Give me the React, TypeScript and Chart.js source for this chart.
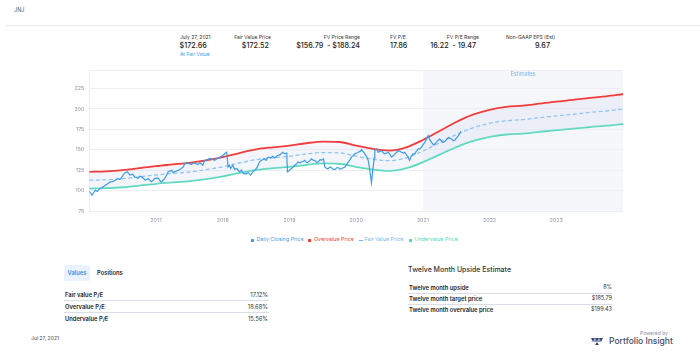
import React, { useEffect, useRef } from "react";
import { Chart, registerables } from "chart.js";

Chart.register(...registerables);

// ---- data ----
const priceX = [
  2016.0, 2016.02, 2016.04, 2016.07, 2016.09, 2016.12, 2016.16, 2016.2, 2016.24, 2016.27, 2016.31, 2016.35, 2016.39,
  2016.43, 2016.46, 2016.49, 2016.53, 2016.57, 2016.61, 2016.65, 2016.68, 2016.73, 2016.76, 2016.79, 2016.84, 2016.88,
  2016.93, 2016.96, 2016.98, 2017.03, 2017.06, 2017.08, 2017.11, 2017.13, 2017.16, 2017.18, 2017.23, 2017.26, 2017.28,
  2017.33, 2017.38, 2017.41, 2017.43, 2017.46, 2017.48, 2017.53, 2017.56, 2017.58, 2017.62, 2017.66, 2017.7, 2017.73,
  2017.77, 2017.81, 2017.85, 2017.88, 2017.92, 2017.96, 2018.0, 2018.03, 2018.06, 2018.08, 2018.1, 2018.12, 2018.15,
  2018.18, 2018.21, 2018.25, 2018.28, 2018.31, 2018.35, 2018.38, 2018.42, 2018.45, 2018.48, 2018.52, 2018.55, 2018.58,
  2018.62, 2018.65, 2018.68, 2018.72, 2018.75, 2018.78, 2018.82, 2018.86, 2018.9, 2018.93, 2018.96, 2018.97, 2019.0,
  2019.03, 2019.06, 2019.08, 2019.11, 2019.13, 2019.16, 2019.18, 2019.21, 2019.23, 2019.26, 2019.28, 2019.31, 2019.33,
  2019.36, 2019.38, 2019.41, 2019.43, 2019.46, 2019.48, 2019.51, 2019.53, 2019.56, 2019.58, 2019.61, 2019.63, 2019.66,
  2019.68, 2019.71, 2019.73, 2019.76, 2019.78, 2019.81, 2019.83, 2019.86, 2019.88, 2019.91, 2019.93, 2019.96, 2019.98,
  2020.01, 2020.03, 2020.06, 2020.08, 2020.11, 2020.13, 2020.16, 2020.18, 2020.2, 2020.21, 2020.23, 2020.24, 2020.255,
  2020.27, 2020.28, 2020.31, 2020.33, 2020.36, 2020.38, 2020.41, 2020.43, 2020.46, 2020.48, 2020.51, 2020.53, 2020.56,
  2020.58, 2020.61, 2020.63, 2020.66, 2020.68, 2020.71, 2020.73, 2020.76, 2020.78, 2020.8, 2020.82, 2020.85, 2020.88,
  2020.9, 2020.93, 2020.95, 2020.98, 2021.0, 2021.03, 2021.06, 2021.08, 2021.1, 2021.13, 2021.16, 2021.18, 2021.21,
  2021.25, 2021.28, 2021.3, 2021.33, 2021.36, 2021.38, 2021.41, 2021.43, 2021.46, 2021.48, 2021.51, 2021.53, 2021.55,
  2021.57,
];
const priceY = [
  99, 97, 94.5, 98, 100.5, 99, 102.6, 104, 106.6, 108, 110.6, 111, 112.7,
  114.7, 113.5, 116.7, 121.6, 123, 119, 120, 116.7, 115, 117.5, 116.7, 112.7, 114.7,
  111, 113, 114.7, 115.5, 112, 110.6, 113, 115, 119, 122.8, 124.8, 122, 123,
  124.8, 127, 129, 133, 134.5, 133.7, 132, 134, 133.7, 132, 134, 131, 137,
  138, 139.5, 138, 137, 139.5, 141, 143, 145.2, 147, 129, 131, 127, 131,
  126, 127, 123, 125, 121, 120.5, 122, 119, 122.8, 124.8, 129, 135, 137,
  139, 137, 141, 140, 142, 140, 143, 144, 147, 145, 146, 123, 125,
  127, 129, 131, 133, 135, 134, 135, 136, 137, 134, 135, 137, 139,
  137, 137, 134, 135, 138, 137, 139, 129, 127, 127, 129, 128, 126,
  125.7, 128, 128.2, 126, 127, 128, 129, 132, 135, 138, 141, 143, 145,
  146, 147, 148, 150, 147, 145, 141, 137, 128, 121, 109.5, 118, 129,
  140, 149, 151, 147, 148, 149, 146, 145, 146, 147, 144, 141, 143,
  145, 147, 149, 148, 147, 146, 147, 143, 141, 137, 141, 145, 145,
  148, 151, 151, 153, 156, 159, 164, 167.4, 163, 159, 156, 157, 160,
  163, 161, 159, 160, 163, 165, 164, 163, 161, 162, 165, 167, 169.4,
  172.7,
];

const bandX = [
  2016.0, 2016.25, 2016.5, 2016.75, 2017.0, 2017.25, 2017.5, 2017.75, 2018.0, 2018.25, 2018.5, 2018.75, 2019.0,
  2019.25, 2019.5, 2019.75, 2020.0, 2020.25, 2020.5, 2020.75, 2021.0, 2021.25, 2021.5, 2021.75, 2022.0, 2022.25,
  2022.5, 2022.75, 2023.0, 2023.25, 2023.5, 2023.75, 2024.0,
];
const overY = [
  123, 123.5, 125, 127.5, 130, 132, 134, 137, 141, 146, 150.5, 153, 155,
  158, 160, 159.5, 155, 151, 149, 153, 162, 173, 184, 193, 199, 202.5,
  204, 206.5, 209, 211, 213.5, 215.5, 218,
];
const fairY = [
  112.7, 113.2, 114.6, 116.9, 119.1, 121.0, 122.8, 125.6, 129.2, 133.8, 137.9, 140.2, 142.1,
  144.8, 146.6, 146.2, 142.1, 138.4, 136.6, 140.2, 148.5, 158.6, 168.6, 176.9, 182.4, 185.6,
  187.0, 189.3, 191.5, 193.4, 195.7, 197.5, 199.8,
];
const underY = [
  102.5, 102.9, 104.1, 106.2, 108.3, 110.0, 111.6, 114.1, 117.5, 121.6, 125.4, 127.4, 129.1,
  131.6, 133.3, 132.9, 129.1, 125.8, 124.1, 127.4, 134.9, 144.1, 153.3, 160.8, 165.8, 168.7,
  169.9, 172.0, 174.1, 175.8, 177.8, 179.5, 181.6,
];

const yTicks = [75, 100, 125, 150, 175, 200, 225];
const yTop = 247.5;
const xMin = 2016;
const xMax = 2024;
const estimatesStart = 2021;

const seriesNames = ["Daily Closing Price", "Overvalue Price", "Fair Value Price", "Undervalue Price"];

const headerLabels = ["July 27, 2021", "Fair Value Price", "FV Price Range", "FV P/E", "FV P/E Range", "Non-GAAP EPS (Est)"];
const headerValues = ["$172.66", "$172.52", "$156.79  - $188.24", "17.86", "16.22  - 19.47", "9.67"];

const peLabels = ["Fair value P/E", "Overvalue P/E", "Undervalue P/E"];
const peValues = ["17.12%", "18.68%", "15.56%"];
const upsideLabels = ["Twelve month upside", "Twelve month target price", "Twelve month overvalue price"];
const upsideValues = ["8%", "$185.79", "$199.43"];

// ---- colors ----
const C_PRICE = "#3d9be9";
const C_OVER = "#f23c3c";
const C_FAIR = "#73b9f0";
const C_UNDER = "#4fd9b9";
const FONT = "Inter, 'Noto Sans', sans-serif";

function T(props: any) {
  const { x, y, size, color = "#222", weight = 400, align = "left", children, family = FONT } = props;
  const style: any = {
    position: "absolute",
    top: y - size / 2 - 1,
    fontSize: size + "px",
    lineHeight: size + 2 + "px",
    color,
    fontWeight: weight,
    fontFamily: family,
    whiteSpace: "pre",
  };
  if (align === "right") style.right = 700 - x;
  else style.left = x;
  return <div style={style}>{children}</div>;
}

function HLine(props: any) {
  const { x1, x2, y, color = "#e3e6ee", h = 1 } = props;
  return <div style={{ position: "absolute", left: x1, top: y, width: x2 - x1, height: h, background: color }} />;
}

const estimatesPlugin = {
  id: "estimates",
  beforeDraw(chart: any) {
    const { ctx, chartArea, scales } = chart;
    const x0 = scales.x.getPixelForValue(estimatesStart);
    ctx.save();
    ctx.fillStyle = "#f6f7fb";
    ctx.fillRect(x0, chartArea.top, chartArea.right - x0, chartArea.bottom - chartArea.top);
    ctx.fillStyle = "#7fb6e8";
    ctx.font = "5.5px " + FONT;
    ctx.textAlign = "center";
    ctx.textBaseline = "middle";
    ctx.fillText("Estimates", (x0 + chartArea.right) / 2, chartArea.top + 4.5);
    ctx.restore();
  },
};

function PriceChart() {
  const ref = useRef<HTMLCanvasElement | null>(null);
  useEffect(() => {
    if (!ref.current) return;
    const pts = (xs: number[], ys: number[]) => xs.map((x, i) => ({ x, y: ys[i] }));
    const chart = new Chart(ref.current, {
      type: "line",
      data: {
        datasets: [
          {
            label: seriesNames[0],
            data: pts(priceX, priceY),
            borderColor: C_PRICE,
            borderWidth: 1.2,
            pointRadius: 0,
            tension: 0,
            fill: false,
          },
          {
            label: seriesNames[1],
            data: pts(bandX, overY),
            borderColor: C_OVER,
            borderWidth: 1.8,
            pointRadius: 0,
            cubicInterpolationMode: "monotone",
            fill: { target: 3 },
            backgroundColor: "rgba(214,222,242,0.3)",
          },
          {
            label: seriesNames[2],
            data: pts(bandX, fairY),
            borderColor: C_FAIR,
            borderWidth: 1.3,
            borderDash: [4, 2.5],
            pointRadius: 0,
            cubicInterpolationMode: "monotone",
            fill: false,
          },
          {
            label: seriesNames[3],
            data: pts(bandX, underY),
            borderColor: C_UNDER,
            borderWidth: 1.8,
            pointRadius: 0,
            cubicInterpolationMode: "monotone",
            fill: false,
          },
        ],
      },
      options: {
        animation: false,
        responsive: false,
        devicePixelRatio: 1,
        layout: { padding: { top: 7, right: 17, left: 0, bottom: 0 } },
        plugins: { legend: { display: false }, tooltip: { enabled: false } },
        scales: {
          x: {
            type: "linear",
            min: xMin,
            max: xMax,
            grid: { display: false, drawTicks: false },
            border: { display: false },
            ticks: {
              stepSize: 1,
              autoSkip: false,
              maxRotation: 0,
              padding: 6,
              color: "#8c93a3",
              font: { size: 5.3, family: FONT },
              callback: (v: any) => (v > xMin && v < xMax ? String(v) : ""),
            },
            afterFit: (s: any) => {
              s.height = 19;
            },
          },
          y: {
            type: "linear",
            min: yTicks[0],
            max: yTop,
            afterBuildTicks: (s: any) => {
              s.ticks = [...yTicks, yTop].map((v) => ({ value: v }));
            },
            grid: { color: "#eceef4", lineWidth: 1, drawTicks: false },
            border: { display: true, color: "#eceef4" },
            ticks: {
              padding: 5,
              color: "#8c93a3",
              font: { size: 5.3, family: FONT },
              callback: (v: any) => (yTicks.includes(v) ? String(v) : ""),
            },
            afterFit: (s: any) => {
              s.width = 29.3;
            },
          },
        },
      },
      plugins: [estimatesPlugin],
    } as any);
    return () => chart.destroy();
  }, []);
  return (
    <canvas
      ref={ref}
      width={580}
      height={168}
      style={{ position: "absolute", left: 60, top: 62, width: 580, height: 168 }}
    />
  );
}

function LegendItem(props: any) {
  const { x, color, label, dash } = props;
  return (
    <>
      {dash ? (
        <div style={{ position: "absolute", left: x - 1, top: 239.5, width: 4, height: 1, background: color }} />
      ) : (
        <div style={{ position: "absolute", left: x - 1.5, top: 238.5, width: 3, height: 3, background: color, borderRadius: 0.5 }} />
      )}
      <T x={x + 4.5} y={240} size={5.3} color={color}>
        {label}
      </T>
    </>
  );
}

export default function App() {
  useEffect(() => {
    document.body.style.margin = "0";
  }, []);
  return (
    <div style={{ position: "relative", width: 700, height: 359, background: "#fff", overflow: "hidden", fontFamily: FONT }}>
      <T x={14} y={11} size={5.5} color="#555">JNJ</T>
      <HLine x1={5} x2={700} y={24.5} color="#e8eaf0" />

      {/* header stats */}
      <T x={180} y={37} size={5} color="#333">{headerLabels[0]}</T>
      <T x={179.5} y={46} size={7.2} color="#222" weight={500}>{headerValues[0]}</T>
      <T x={180} y={54.5} size={5} color="#3d9be9">At Fair Value</T>

      <T x={271} y={37} size={5} color="#333" align="right">{headerLabels[1]}</T>
      <T x={269} y={46} size={7.2} color="#222" weight={500} align="right">{headerValues[1]}</T>

      <T x={360} y={37} size={5} color="#333" align="right">{headerLabels[2]}</T>
      <T x={360} y={46} size={7.2} color="#222" weight={500} align="right">{headerValues[2]}</T>

      <T x={390} y={37} size={5} color="#333">{headerLabels[3]}</T>
      <T x={390} y={46} size={7.2} color="#222" weight={500}>{headerValues[3]}</T>

      <T x={479} y={37} size={5} color="#333" align="right">{headerLabels[4]}</T>
      <T x={476} y={46} size={7.2} color="#222" weight={500} align="right">{headerValues[4]}</T>

      <T x={555} y={37} size={5} color="#333" align="right">{headerLabels[5]}</T>
      <T x={550} y={46} size={7.2} color="#222" weight={500} align="right">{headerValues[5]}</T>

      <PriceChart />

      <LegendItem x={252} color={C_PRICE} label={seriesNames[0]} />
      <LegendItem x={309.5} color={C_OVER} label={seriesNames[1]} />
      <LegendItem x={360} color={C_FAIR} label={seriesNames[2]} dash />
      <LegendItem x={410} color={C_UNDER} label={seriesNames[3]} />

      {/* left table */}
      <div style={{ position: "absolute", left: 64, top: 265, width: 26, height: 16, background: "#e9f2fd", borderRadius: 2 }} />
      <T x={77} y={273} size={5.8} color="#3d8fe3" weight={600} align="left">
        <span style={{ position: "relative", left: -9.5 }}>Values</span>
      </T>
      <T x={97} y={273} size={5.8} color="#222" weight={600}>Positions</T>
      {peLabels.map((l, i) => (
        <React.Fragment key={l}>
          <T x={65} y={295 + i * 11.7} size={5.8} color="#222" weight={600}>{l}</T>
          <T x={268} y={295 + i * 11.7} size={5.8} color="#333" align="right">{peValues[i]}</T>
        </React.Fragment>
      ))}
      <HLine x1={64} x2={269} y={300} color="#d9dde6" />
      <HLine x1={64} x2={269} y={311.5} color="#d9dde6" />

      <T x={31} y={338} size={5} color="#666" weight={500}>Jul 27, 2021</T>

      {/* right table */}
      <T x={408} y={269.3} size={7} color="#333" weight={500}>Twelve Month Upside Estimate</T>
      {upsideLabels.map((l, i) => (
        <React.Fragment key={l}>
          <T x={409} y={287.7 + i * 11} size={5.8} color="#222" weight={600}>{l}</T>
          <T x={612} y={287.7 + i * 11} size={5.5} color="#333" align="right">{upsideValues[i]}</T>
        </React.Fragment>
      ))}
      <HLine x1={408} x2={612} y={292.5} color="#d9dde6" />
      <HLine x1={408} x2={612} y={303.5} color="#d9dde6" />

      <T x={668} y={333} size={5} color="#8a90a0" align="right">Powered by</T>
      <svg style={{ position: "absolute", left: 591, top: 337 }} width={14} height={9} viewBox="0 0 14 9">
        <polygon points="0,1 4,1 2,5" fill="#3e4a6b" />
        <polygon points="2,5 4,1 6,5" fill="#8fa0c8" />
        <polygon points="4,1 8,1 6,5" fill="#3e4a6b" />
        <polygon points="6,5 8,1 10,5" fill="#8fa0c8" />
        <polygon points="8,1 12,1 10,5" fill="#3e4a6b" />
        <polygon points="4,8 6,5 8,8" fill="#3e4a6b" />
      </svg>
      <T x={609} y={341.5} size={8.5} color="#3e4a6b" weight={500}>Portfolio Insight</T>
    </div>
  );
}
